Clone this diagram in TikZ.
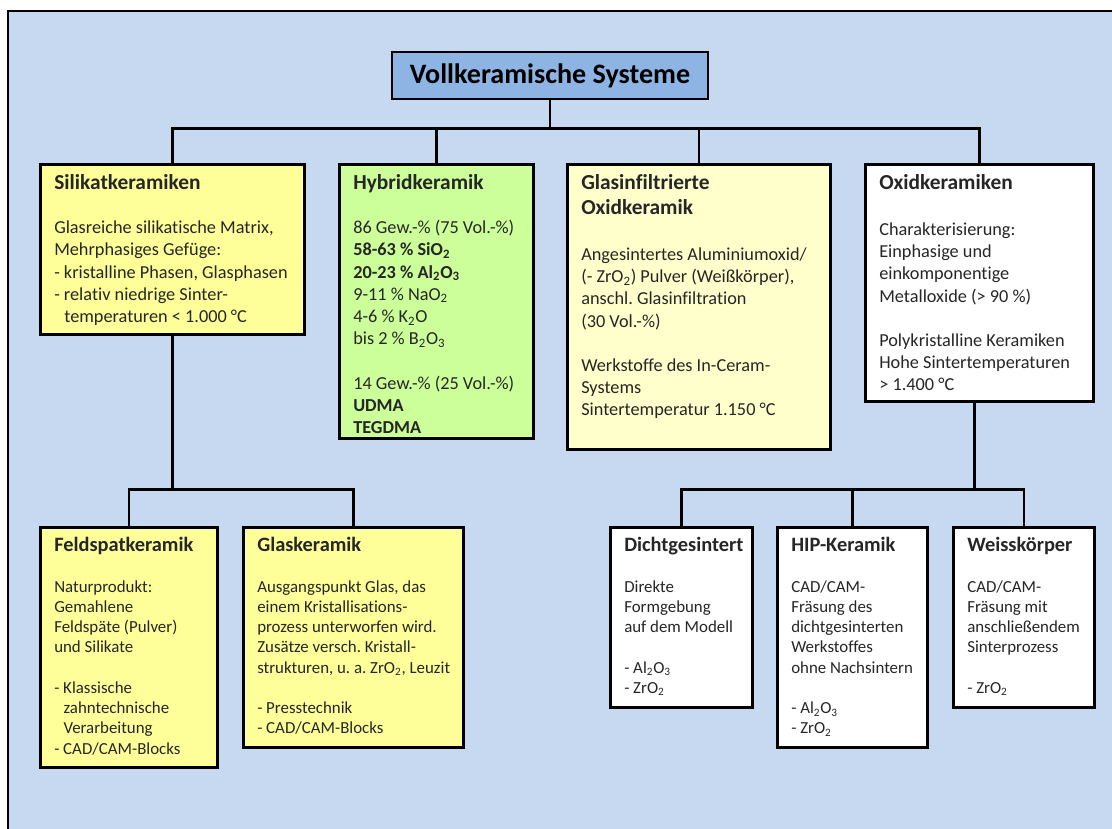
\documentclass[tikz,border=0pt]{standalone}
\usepackage{fontspec}
\setmainfont{Carlito}[Ligatures=NoCommon]
\frenchspacing
\definecolor{bgblue}{HTML}{C6D9F1}
\definecolor{titleblue}{HTML}{8EB4E3}
\definecolor{panelyellow}{HTML}{FFFF99}
\definecolor{panelcream}{HTML}{FFFFCC}
\definecolor{panelgreen}{HTML}{CCFF99}
\newlength\pxu
\setlength\pxu{0.025cm}
\newcommand{\bodyfont}{\fontsize{13}{15.8}\selectfont}
\newcommand{\headfont}{\fontsize{15.2}{18}\selectfont\bfseries}
\newcommand{\subbodyfont}{\fontsize{12}{14.4}\selectfont}
\newcommand{\subheadfont}{\fontsize{14.5}{17}\selectfont\bfseries}
\newcommand{\panelbody}[3]{\begin{minipage}[t][\dimexpr#2\pxu-0.5cm\relax][t]{\dimexpr#1\pxu-2\pxu\relax}%
    \frenchspacing\leftskip=13\pxu \rightskip=0pt plus 1fil \parfillskip=0pt plus 1fil #3\end{minipage}}
\begin{document}
\begin{tikzpicture}[x=0.025cm, y=-0.025cm,
    panel/.style={draw, line width=1.8pt, anchor=north west, inner xsep=1\pxu, inner ysep=0.25cm, font=\bodyfont, text=black!85},
    subpanel/.style={panel, font=\subbodyfont},
    titlebox/.style={draw, line width=1.8pt, fill=titleblue, minimum width=7.9cm, minimum height=1.175cm, font=\fontsize{20}{24}\selectfont\bfseries},
    conn/.style={line width=1.8pt},
]
\useasboundingbox (0,0) rectangle (1112,829);

% Background frame
\fill[bgblue] (8,11) rectangle (1112,829);
\draw[line width=1.8pt] (8,829) -- (8,11) -- (1112,11);

% Root
\node[titlebox] (title) at (550,75.5) {Vollkeramische Systeme};

% Main classes
\node[panel, fill=panelyellow] (silikat) at (39,163) {\panelbody{264}{170}{%
{\headfont Silikatkeramiken}\\[\baselineskip]
Glasreiche silikatische Matrix,\\
Mehrphasiges Gefüge:\\
- kristalline Phasen, Glasphasen\\
- relativ niedrige Sinter-\\
\hspace*{0.55em}temperaturen < 1.000 °C}};

\node[panel, fill=panelgreen] (hybrid) at (338,163) {\panelbody{194}{274}{%
{\headfont Hybridkeramik}\\[\baselineskip]
86 Gew.-\% (75 Vol.-\%)\\
\textbf{58-63 \% SiO\textsubscript{2}}\\
\textbf{20-23 \% Al\textsubscript{2}O\textsubscript{3}}\\
9-11 \% NaO\textsubscript{2}\\
4-6 \% K\textsubscript{2}O\\
bis 2 \% B\textsubscript{2}O\textsubscript{3}\\[\baselineskip]
14 Gew.-\% (25 Vol.-\%)\\
\textbf{UDMA}\\
\textbf{TEGDMA}}};

\node[panel, fill=panelcream] (glasinf) at (566,163) {\panelbody{263}{285}{%
{\headfont Glasinfiltrierte\\[2pt]
Oxidkeramik}\\[17pt]
Angesintertes Aluminiumoxid/\\
(- ZrO\textsubscript{2}) Pulver (Weißkörper),\\
anschl. Glasinfiltration\\
(30 Vol.-\%)\\[\baselineskip]
Werkstoffe des In-Ceram-\\
Systems\\
Sintertemperatur 1.150 °C}};

\node[panel, fill=white] (oxid) at (864,163) {\panelbody{228}{237}{%
{\headfont Oxidkeramiken}\\[17pt]
Charakterisierung:\\
Einphasige und\\
einkomponentige\\
Metalloxide (> 90 \%)\\[\baselineskip]
Polykristalline Keramiken\\
Hohe Sintertemperaturen\\
> 1.400 °C}};

% Silicate ceramics
\node[subpanel, fill=panelyellow] (feldspat) at (39,526) {\panelbody{177}{240}{%
{\subheadfont Feldspatkeramik}\\[\baselineskip]
Naturprodukt:\\
Gemahlene\\
Feldspäte (Pulver)\\
und Silikate\\[\baselineskip]
- Klassische\\
\hspace*{0.55em}zahntechnische\\
\hspace*{0.55em}Verarbeitung\\
- CAD/CAM-Blocks}};

\node[subpanel, fill=panelyellow] (glaskeramik) at (242,526) {\panelbody{220}{220}{%
{\subheadfont Glaskeramik}\\[\baselineskip]
Ausgangspunkt Glas, das\\
einem Kristallisations-\\
prozess unterworfen wird.\\
Zusätze versch. Kristall-\\
strukturen, u. a. ZrO\textsubscript{2}, Leuzit\\[\baselineskip]
- Presstechnik\\
- CAD/CAM-Blocks}};

% Oxide ceramics
\node[subpanel, fill=white] (dicht) at (609,526) {\panelbody{142}{180}{%
{\subheadfont Dichtgesintert}\\[\baselineskip]
Direkte\\
Formgebung\\
auf dem Modell\\[\baselineskip]
- Al\textsubscript{2}O\textsubscript{3}\\
- ZrO\textsubscript{2}}};

\node[subpanel, fill=white] (hip) at (776,526) {\panelbody{150}{220}{%
{\subheadfont HIP-Keramik}\\[\baselineskip]
CAD/CAM-\\
Fräsung des\\
dichtgesinterten\\
Werkstoffes\\
ohne Nachsintern\\[\baselineskip]
- Al\textsubscript{2}O\textsubscript{3}\\
- ZrO\textsubscript{2}}};

\node[subpanel, fill=white] (weiss) at (952,526) {\panelbody{141}{180}{%
{\subheadfont Weisskörper}\\[\baselineskip]
CAD/CAM-\\
Fräsung mit\\
anschließendem\\
Sinterprozess\\[\baselineskip]
- ZrO\textsubscript{2}}};

% Connectors
\draw[conn] (title.south) -- ++(0,28) coordinate (topbar);
\foreach \b in {silikat, hybrid, glasinf, oxid}
    \draw[conn] (topbar) -| (\b.north);
\draw[conn] (silikat.south) -- ++(0,154) coordinate (leftbar);
\foreach \b in {feldspat, glaskeramik}
    \draw[conn] (leftbar) -| (\b.north);
\draw[conn] ([xshift=-0.12cm]oxid.south) -- ++(0,87) coordinate (rightbar);
\foreach \b in {dicht, hip, weiss}
    \draw[conn] (rightbar) -| (\b.north);
\end{tikzpicture}
\end{document}
